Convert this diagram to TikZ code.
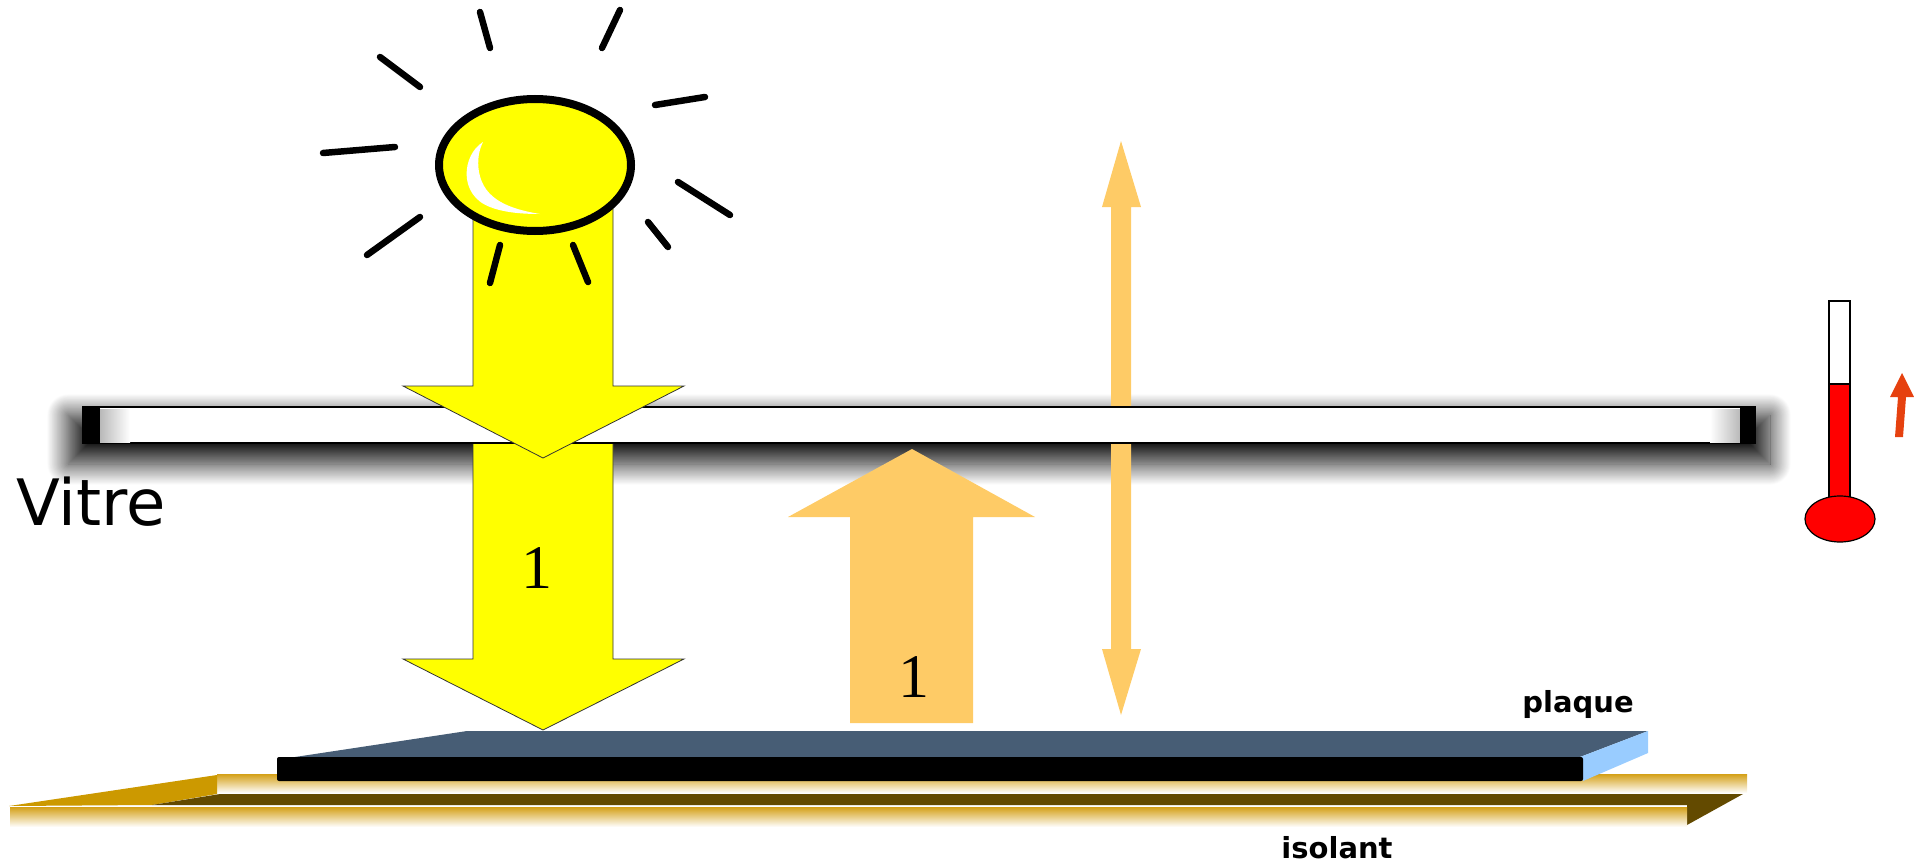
\documentclass[tikz,border=0pt]{standalone}
\usepackage{fontspec}
\setmainfont{Liberation Serif}
\newfontfamily\labelfont{DejaVu Sans}
\usetikzlibrary{shadows.blur}
\definecolor{sunyellow}{RGB}{255,255,0}
\definecolor{heatorange}{RGB}{254,203,102}
\definecolor{plateslate}{RGB}{71,93,117}
\definecolor{plateedge}{RGB}{153,204,255}
\definecolor{woodgold}{RGB}{204,153,0}
\definecolor{wooddark}{RGB}{99,74,0}
\definecolor{stripgold}{RGB}{212,160,23}
\definecolor{thermored}{RGB}{255,0,0}
\definecolor{riseorange}{RGB}{230,65,15}
\begin{document}
\begin{tikzpicture}[x=1pt,y=-1pt,
		sunray/.style={line width=6.5pt,line cap=round},
		fluxnum/.style={font=\fontsize{62}{62}\selectfont},
		layertag/.style={font=\labelfont\bfseries\fontsize{29}{29}\selectfont}]
			\useasboundingbox (0,0) rectangle (1914,867);
			% isolant
			\fill [top color=stripgold,bottom color=white] (217,774) rectangle (1747,793);
			\fill [woodgold] (9,806) -- (217,775) -- (217,794) -- (152,805) -- cycle;
			\fill [wooddark] (152,805) -- (220,794) -- (1743,794) -- (1687,825) -- (1687,805) -- cycle;
			\fill [top color=stripgold,bottom color=white] (10,807) rectangle (1687,827);
			% plaque
			\fill [plateslate] (295,757) -- (467,731) -- (1648,731) -- (1580,757) -- cycle;
			\fill [plateedge] (1580,757) -- (1648,731) -- (1648,753) -- (1583,781) -- cycle;
			\fill [black,rounded corners=2pt] (277,757) rectangle (1583,781);
			% shadow of the vitre
			\path [blur shadow={shadow xshift=0pt,shadow yshift=0pt,shadow blur radius=21pt,shadow blur steps=30,shadow opacity=92}]
				(68,415) rectangle (1770,464);
			% heat arrows
			\fill [heatorange] (1121,141) -- (1141,207) -- (1131,207) -- (1131,649) -- (1141,649) -- (1121,715)
				-- (1102,649) -- (1111,649) -- (1111,207) -- (1102,207) -- cycle;
			\fill [heatorange] (912,449) -- (1035,517) -- (973,517) -- (973,723) -- (850,723) -- (850,517) -- (788,517) -- cycle;
			\node [fluxnum] (upflux) at (914,677) {1};
			% sun arrow through the glass
			\draw [fill=sunyellow,draw=black!80,line width=0.8pt] (473,443) -- (473,659) -- (403,659) -- (543,730)
				-- (684,659) -- (613,659) -- (613,443) -- cycle;
			\node [fluxnum] (downflux) at (537,568) {1};
			% vitre
			\draw [fill=white,line width=2pt] (83,407) rectangle (1755,443);
			\fill [left color=gray!55,right color=white] (100,409) rectangle (130,442);
			\fill [left color=white,right color=gray!55] (1710,409) rectangle (1740,442);
			\fill [black] (83,406) rectangle (100,443);
			\fill [black] (1740,406) rectangle (1755,443);
			\draw [fill=sunyellow,draw=black!80,line width=0.8pt] (473,200) -- (473,386) -- (403,386) -- (543,458)
				-- (684,386) -- (613,386) -- (613,200);
			% sun
			\draw [fill=sunyellow,line width=8pt] (535,165) ellipse [x radius=96pt,y radius=66pt];
			\fill [white] (483,142) .. controls (462,155) and (458,195) .. (490,207) .. controls (505,213) and (525,214) .. (540,214)
				.. controls (510,209) and (484,200) .. (479,172) .. controls (477,160) and (479,150) .. (483,142) -- cycle;
			\draw [sunray] (480,12) -- (490,48);
			\draw [sunray] (620,10) -- (602,48);
			\draw [sunray] (380,57) -- (420,87);
			\draw [sunray] (655,105) -- (705,97);
			\draw [sunray] (323,153) -- (395,147);
			\draw [sunray] (678,182) -- (730,215);
			\draw [sunray] (420,217) -- (367,255);
			\draw [sunray] (648,222) -- (668,247);
			\draw [sunray] (500,245) -- (490,283);
			\draw [sunray] (573,245) -- (588,282);
			% thermometre
			\draw [fill=white,line width=1.2pt] (1829,301) rectangle (1850,384);
			\draw [fill=thermored,line width=1.2pt] (1829,384) rectangle (1850,505);
			\draw [fill=thermored,line width=1.2pt] (1840,519) ellipse [x radius=35pt,y radius=23pt];
			\fill [riseorange] (1902,373) -- (1914,397) -- (1906,397) -- (1903,437) -- (1895,437) -- (1898,397) -- (1890,397) -- cycle;
			% labels
			\node [font=\labelfont\fontsize{64}{64}\selectfont] (vitre) at (91,502) {Vitre};
			\node [layertag] (plaque) at (1578,704) {plaque};
			\node [layertag] (isolant) at (1337,848) {isolant};
		\end{tikzpicture}
\end{document}
